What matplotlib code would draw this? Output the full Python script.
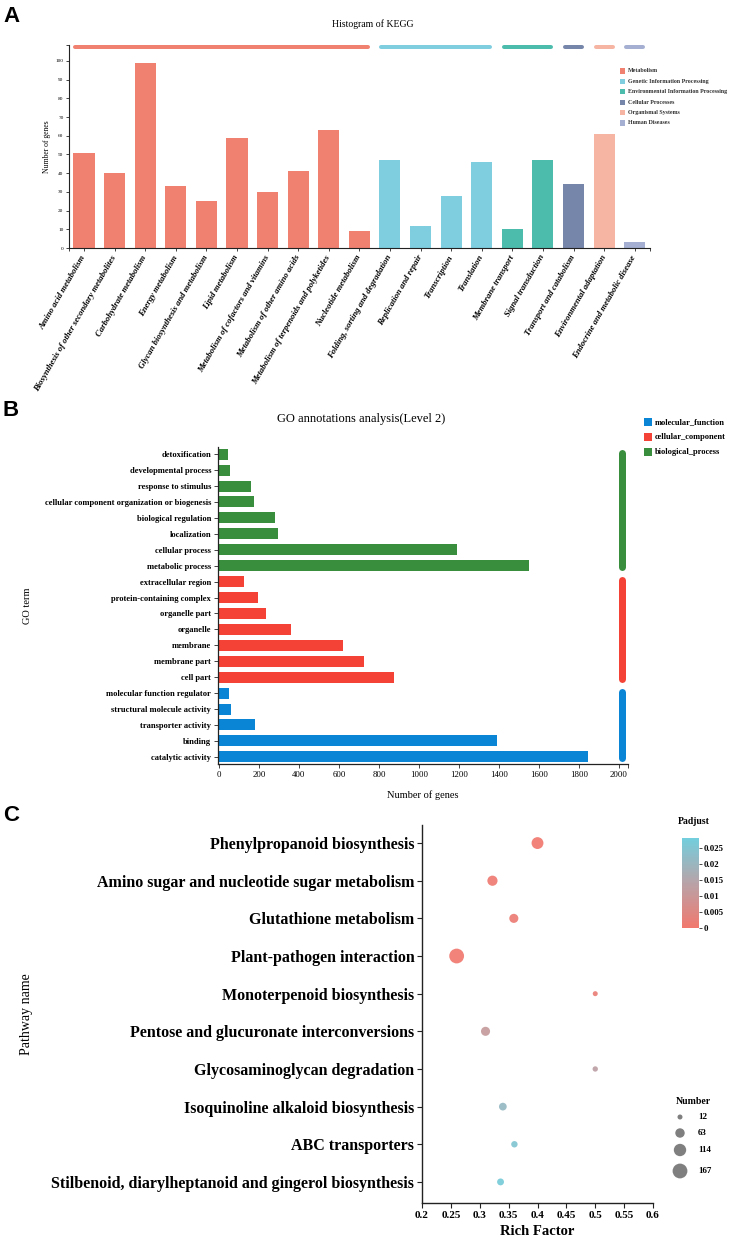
import matplotlib
matplotlib.use("Agg")
import matplotlib.pyplot as plt
import numpy as np
from matplotlib.colors import LinearSegmentedColormap, Normalize
from matplotlib.patches import Rectangle

# ---------------- DATA ----------------
# Panel A: KEGG histogram
kegg_terms = ["Amino acid metabolism", "Biosynthesis of other secondary metabolites",
              "Carbohydrate metabolism", "Energy metabolism", "Glycan biosynthesis and metabolism",
              "Lipid metabolism", "Metabolism of cofactors and vitamins",
              "Metabolism of other amino acids", "Metabolism of terpenoids and polyketides",
              "Nucleotide metabolism", "Folding, sorting and degradation", "Replication and repair",
              "Transcription", "Translation", "Membrane transport", "Signal transduction",
              "Transport and catabolism", "Environmental adaptation", "Endocrine and metabolic disease"]
kegg_counts = [51, 40, 99, 33, 25, 59, 30, 41, 63, 9, 47, 12, 28, 46, 10, 47, 34, 61, 3]
kegg_groups = ["Metabolism", "Genetic Information Processing", "Environmental Information Processing",
               "Cellular Processes", "Organismal Systems", "Human Diseases"]
kegg_group_sizes = [10, 4, 2, 1, 1, 1]
kegg_colors = ["#F08070", "#7ECEE0", "#4CBDAC", "#7686AA", "#F6B4A2", "#A4AFD1"]

# Panel B: GO level 2
go_terms = ["detoxification", "developmental process", "response to stimulus",
            "cellular component organization or biogenesis", "biological regulation",
            "localization", "cellular process", "metabolic process",
            "extracellular region", "protein-containing complex", "organelle part", "organelle",
            "membrane", "membrane part", "cell part",
            "molecular function regulator", "structural molecule activity", "transporter activity",
            "binding", "catalytic activity"]
go_counts = [47, 56, 162, 174, 282, 296, 1192, 1550,
             123, 194, 236, 362, 621, 724, 874,
             50, 62, 182, 1388, 1843]
go_groups = ["biological_process", "cellular_component", "molecular_function"]
go_group_sizes = [8, 7, 5]
go_colors = {"molecular_function": "#0A84D4", "cellular_component": "#F44336",
             "biological_process": "#388E3C"}
go_legend_order = ["molecular_function", "cellular_component", "biological_process"]
go_xticks = [0, 200, 400, 600, 800, 1000, 1200, 1400, 1600, 1800, 2000]

# Panel C: KEGG enrichment
path_names = ["Phenylpropanoid biosynthesis", "Amino sugar and nucleotide sugar metabolism",
              "Glutathione metabolism", "Plant-pathogen interaction", "Monoterpenoid biosynthesis",
              "Pentose and glucuronate interconversions", "Glycosaminoglycan degradation",
              "Isoquinoline alkaloid biosynthesis", "ABC transporters",
              "Stilbenoid, diarylheptanoid and gingerol biosynthesis"]
rich_factor = [0.40, 0.322, 0.359, 0.260, 0.50, 0.310, 0.50, 0.340, 0.360, 0.336]
path_number = [105, 75, 58, 167, 12, 58, 15, 40, 25, 30]
padjust = [0.0005, 0.001, 0.0015, 0.0005, 0.002, 0.011, 0.013, 0.021, 0.025, 0.027]
size_legend = [12, 63, 114, 167]
rf_ticks = [0.2, 0.25, 0.3, 0.35, 0.4, 0.45, 0.5, 0.55, 0.6]
cb_ticks = [0, 0.005, 0.01, 0.015, 0.02, 0.025]

# ---------------- FIGURE ----------------
W, H = 731, 1240
fig = plt.figure(figsize=(W / 100, H / 100), dpi=100)
SERIF = ["Liberation Serif", "DejaVu Serif"]
SANS = ["Liberation Sans", "DejaVu Sans"]
plt.rcParams["font.family"] = SERIF


def px_axes(l, t, r, b):
    return fig.add_axes([l / W, 1 - b / H, (r - l) / W, (b - t) / H])


AXC = "#222222"

# ======== Panel A ========
axA = px_axes(69, 45, 650, 248)
xA = np.arange(len(kegg_terms))
barcolsA = []
for g, n in enumerate(kegg_group_sizes):
    barcolsA += [kegg_colors[g]] * n
axA.bar(xA, kegg_counts, width=0.69, color=barcolsA)
axA.set_xlim(-0.49, 18.5)
axA.set_ylim(0, 108.5)
for s in ["top", "right"]:
    axA.spines[s].set_visible(False)
for s in ["left", "bottom"]:
    axA.spines[s].set_color(AXC)
    axA.spines[s].set_linewidth(0.8)
axA.set_yticks(list(range(0, 101, 10)) + [108.5])
axA.set_yticklabels([str(v) for v in range(0, 101, 10)] + [""], fontsize=3.8)
axA.set_xticks(xA)
axA.set_xticks([-0.49, 18.5], minor=True)
axA.set_xticklabels(kegg_terms, rotation=60, ha="right", va="center",
                    rotation_mode="anchor", fontsize=6.2, style="italic", weight="bold")
axA.tick_params(axis="both", which="both", length=2.5, width=0.6, color=AXC, pad=1.5)
axA.tick_params(axis="x", pad=3)
axA.set_ylabel("Number of genes", fontsize=5.5, labelpad=3)
# group bars on top
start = 0
lwA = 4 * 0.72
insetA = 2 / 30.6
for g, n in enumerate(kegg_group_sizes):
    x0 = start - 0.345 + insetA
    x1 = start + n - 1 + 0.345 - insetA
    axA.plot([x0, x1], [107.5, 107.5], color=kegg_colors[g], lw=lwA,
             solid_capstyle="round", clip_on=False)
    start += n

# ======== Panel B ========
axB = px_axes(218, 447, 628, 764)
yB = np.arange(len(go_terms))
barcolsB = []
for g, n in zip(go_groups, go_group_sizes):
    barcolsB += [go_colors[g]] * n
axB.barh(yB, go_counts, height=0.69, color=barcolsB)
axB.set_xlim(-5, 2045)
axB.set_ylim(19.45, -0.45)
for s in ["top", "right"]:
    axB.spines[s].set_visible(False)
for s in ["left", "bottom"]:
    axB.spines[s].set_color(AXC)
    axB.spines[s].set_linewidth(0.9)
axB.set_yticks(yB)
axB.set_yticklabels(go_terms, fontsize=6.1, weight="bold")
axB.set_xticks(go_xticks)
axB.set_xticks([2045], minor=True)
axB.set_xticklabels([str(v) for v in go_xticks], fontsize=6.3)
axB.tick_params(axis="both", which="both", length=3, width=0.6, color=AXC, pad=2)
axB.set_xlabel("Number of genes", fontsize=7.5, labelpad=8)
axB.set_ylabel("GO term", fontsize=7.5, labelpad=0)
axB.yaxis.set_label_coords(-(218 - 32) / 410, 0.5)
start = 0
lwB = 7 * 0.72
insetB = 3.5 / 15.95
for g, n in zip(go_groups, go_group_sizes):
    y0 = start - 0.32 + insetB
    y1 = start + n - 1 + 0.32 - insetB
    axB.plot([2015, 2015], [y0, y1], color=go_colors[g], lw=lwB,
             solid_capstyle="round", clip_on=False)
    start += n

# ======== Panel C ========
axC = px_axes(422, 825, 653, 1203)
yC = np.arange(len(path_names))
cmap = LinearSegmentedColormap.from_list("padj", ["#F2786E", "#B8A3A8", "#72CEDD"])
norm = Normalize(vmin=0, vmax=0.028)


def num_to_s(n):
    d2 = 25 + 1.25 * (np.asarray(n, dtype=float) - 12)  # diameter^2 in px^2
    return d2 * 0.72 * 0.72


axC.scatter(rich_factor, yC, s=num_to_s(path_number), c=padjust, cmap=cmap, norm=norm,
            edgecolors="none", alpha=0.92, zorder=3)
axC.set_xlim(0.2, 0.6)
axC.set_ylim(9.56, -0.48)
for s in ["top", "right"]:
    axC.spines[s].set_visible(False)
for s in ["left", "bottom"]:
    axC.spines[s].set_color(AXC)
    axC.spines[s].set_linewidth(1.0)
axC.set_yticks(yC)
axC.set_yticklabels(path_names, fontsize=11.5, weight="bold")
axC.set_xticks(rf_ticks)
axC.set_xticklabels([("%g" % v) for v in rf_ticks], fontsize=8, weight="bold")
axC.tick_params(axis="both", length=3.5, width=0.8, color=AXC, pad=2)
axC.set_xlabel("Rich Factor", fontsize=10.5, weight="bold", labelpad=4)
axC.set_ylabel("Pathway name", fontsize=10)
axC.yaxis.set_label_coords(-(422 - 33) / 231, 0.5)

# colorbar
cax = px_axes(682, 838, 699, 928)
cb = fig.colorbar(plt.cm.ScalarMappable(norm=norm, cmap=cmap), cax=cax)
cb.outline.set_visible(False)
cb.set_ticks(cb_ticks)
cb.set_ticklabels([("%g" % v) for v in cb_ticks])
cax.tick_params(labelsize=6.3, length=2, width=0.5, pad=1.5)
for t in cax.get_yticklabels():
    t.set_fontweight("bold")

# ======== overlay in pixel coordinates ========
ov = fig.add_axes([0, 0, 1, 1])
ov.set_xlim(0, W)
ov.set_ylim(H, 0)
ov.axis("off")

# panel letters
for lab, yy in [("A", 6), ("B", 400), ("C", 805)]:
    ov.text(3, yy, lab, fontsize=16, weight="bold", family=SANS, va="top", ha="left")

# titles
ov.text(373, 24, "Histogram of KEGG", fontsize=7, ha="center", va="center")
ov.text(361, 419, "GO annotations analysis(Level 2)", fontsize=9, ha="center", va="center")

# KEGG legend
for i, (g, c) in enumerate(zip(kegg_groups, kegg_colors)):
    yy = 71 + i * 10.4
    ov.add_patch(Rectangle((620, yy - 2.6), 5.2, 5.2, color=c, lw=0))
    ov.text(628, yy, g, fontsize=4.3, ha="left", va="center", weight="bold", color="#333333")

# GO legend
for i, g in enumerate(go_legend_order):
    yy = 422 + i * 15
    ov.add_patch(Rectangle((644, yy - 4), 8, 8, color=go_colors[g], lw=0))
    ov.text(655, yy, g, fontsize=6, ha="left", va="center", weight="bold")

# Padjust title
ov.text(694, 821, "Padjust", fontsize=7, weight="bold", ha="center", va="center")

# Number size legend
ov.text(693, 1101, "Number", fontsize=7, weight="bold", ha="center", va="center")
for n, yy in zip(size_legend, [1117, 1133, 1150, 1171]):
    ov.scatter([680], [yy], s=num_to_s(n), color="#7F7F7F", edgecolors="none")
    ov.text(698, yy, str(n), fontsize=6.5, weight="bold", ha="left", va="center")

fig.savefig("out.png", dpi=100)
